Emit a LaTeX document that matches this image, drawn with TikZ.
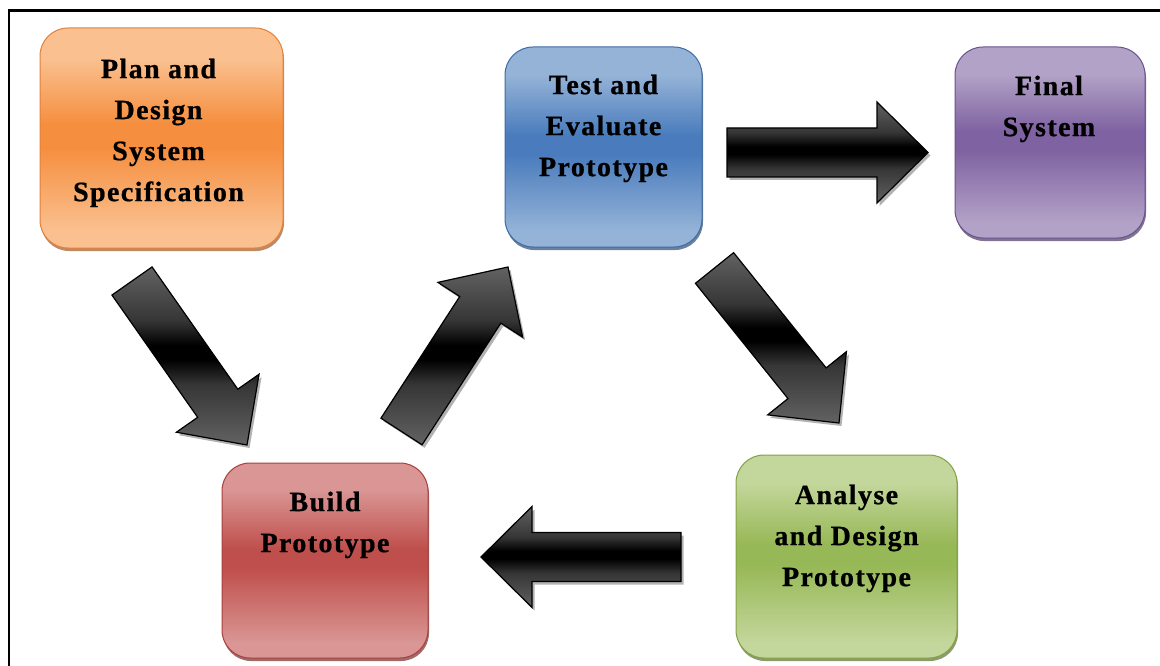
\documentclass[tikz,border=0pt]{standalone}
\usepackage{fontspec}
\setmainfont{Liberation Serif}
\newfontfamily\lblfont[LetterSpace=5.0, BoldFeatures={FakeBold=0.7}]{Liberation Serif}
\usetikzlibrary{calc,shadows}

\definecolor{orLt}{HTML}{FAC08F}\definecolor{orDk}{HTML}{F58E3E}\definecolor{orBd}{HTML}{E3803A}
\definecolor{blLt}{HTML}{95B3D7}\definecolor{blDk}{HTML}{4A7CBD}\definecolor{blBd}{HTML}{3D6BA6}
\definecolor{puLt}{HTML}{B3A2C7}\definecolor{puDk}{HTML}{7F62A1}\definecolor{puBd}{HTML}{6B5190}
\definecolor{reLt}{HTML}{D99694}\definecolor{reDk}{HTML}{BF4F4C}\definecolor{reBd}{HTML}{A8403D}
\definecolor{grLt}{HTML}{C3D69B}\definecolor{grDk}{HTML}{97B856}\definecolor{grBd}{HTML}{83A243}
\definecolor{argr}{HTML}{626262}
\colorlet{boxlt}{white}\colorlet{boxdk}{black}

\pgfdeclareverticalshading[boxlt,boxdk]{glossy}{100bp}{color(0bp)=(boxlt); color(29bp)=(boxlt); color(48bp)=(boxdk); color(53bp)=(boxdk); color(68bp)=(boxlt); color(100bp)=(boxlt)}
\pgfdeclareverticalshading{arrowsh}{100bp}{color(0bp)=(argr); color(25bp)=(argr); color(42bp)=(argr!55!black); color(49bp)=(black); color(53bp)=(black); color(60bp)=(argr!55!black); color(75bp)=(argr); color(100bp)=(argr)}

\tikzset{
  stagebox/.style n args={3}{rectangle, rounded corners=28pt, line width=1pt,
    /utils/exec={\colorlet{boxlt}{#1}\colorlet{boxdk}{#2}},
    shade, shading=glossy, draw=#3, inner sep=0pt,
    drop shadow={shadow xshift=1pt, shadow yshift=-3pt, fill=#3!70!black, opacity=0.7}},
  lbl/.style={anchor=north, inner sep=0pt, align=center,
    font=\lblfont\bfseries\fontsize{28}{41}\selectfont, text=black},
}

\newcommand\blockarrow[2]{%
  \coordinate (#1-b) at ($(#2)!51pt!(#1)$);
  \fill[black, opacity=.3, transform canvas={shift={(2.5pt,-3pt)}}]
    ($(#1)!24.5pt!90:(#2)$) -- ($(#1-b)!24.5pt!90:(#2)$) -- ($(#1-b)!50.5pt!90:(#2)$) -- (#2)
    -- ($(#1-b)!50.5pt!-90:(#2)$) -- ($(#1-b)!24.5pt!-90:(#2)$) -- ($(#1)!24.5pt!-90:(#2)$) -- cycle;
  \shade[shading=arrowsh, draw=black, line width=1.2pt, line join=miter]
    ($(#1)!24.5pt!90:(#2)$) -- ($(#1-b)!24.5pt!90:(#2)$) -- ($(#1-b)!50.5pt!90:(#2)$) -- (#2)
    -- ($(#1-b)!50.5pt!-90:(#2)$) -- ($(#1-b)!24.5pt!-90:(#2)$) -- ($(#1)!24.5pt!-90:(#2)$) -- cycle;
}

\begin{document}
\begin{tikzpicture}[x=1pt, y=-1pt]
\useasboundingbox (0,0) rectangle (1160,666);
\fill[white] (0,0) rectangle (1160,666);
\draw[line width=2.2pt] (9,666) -- (9,10.5) -- (1160,10.5);

% stages
\node[stagebox={orLt}{orDk}{orBd}, minimum width=243pt, minimum height=220pt] (plan) at (161.5,138) {};
\node[stagebox={blLt}{blDk}{blBd}, minimum width=197pt, minimum height=200pt] (test) at (603.5,147) {};
\node[stagebox={puLt}{puDk}{puBd}, minimum width=190pt, minimum height=191pt] (final) at (1050,142.5) {};
\node[stagebox={reLt}{reDk}{reBd}, minimum width=206pt, minimum height=195pt] (build) at (325,560.5) {};
\node[stagebox={grLt}{grDk}{grBd}, minimum width=221pt, minimum height=203pt] (analyse) at (846.5,556.5) {};

% labels
\node[lbl] (plan-t) at ($(plan.north)+(-3,31)$) {Plan and\\Design\\System\\Specification};
\node[lbl] (test-t) at ($(test.north)+(0,28)$) {Test and\\Evaluate\\Prototype};
\node[lbl] (final-t) at ($(final.north)+(-1,29)$) {Final\\System};
\node[lbl] (build-t) at ($(build.north)+(0,29)$) {Build\\Prototype};
\node[lbl] (analyse-t) at ($(analyse.north)+(0,30)$) {Analyse\\and Design\\Prototype};

% block arrow end points
\coordinate (pb-s) at (132,281);   \coordinate (pb-e) at (247,445);
\coordinate (bt-s) at (401.5,431.5); \coordinate (bt-e) at (508,267);
\coordinate (tf-s) at (727,152.5); \coordinate (tf-e) at (928,152.5);
\coordinate (ta-s) at (714.5,268); \coordinate (ta-e) at (839,423);
\coordinate (ab-s) at (681,557);   \coordinate (ab-e) at (481,557);

\blockarrow{pb-s}{pb-e}
\blockarrow{bt-s}{bt-e}
\blockarrow{tf-s}{tf-e}
\blockarrow{ta-s}{ta-e}
\blockarrow{ab-s}{ab-e}
\end{tikzpicture}
\end{document}
